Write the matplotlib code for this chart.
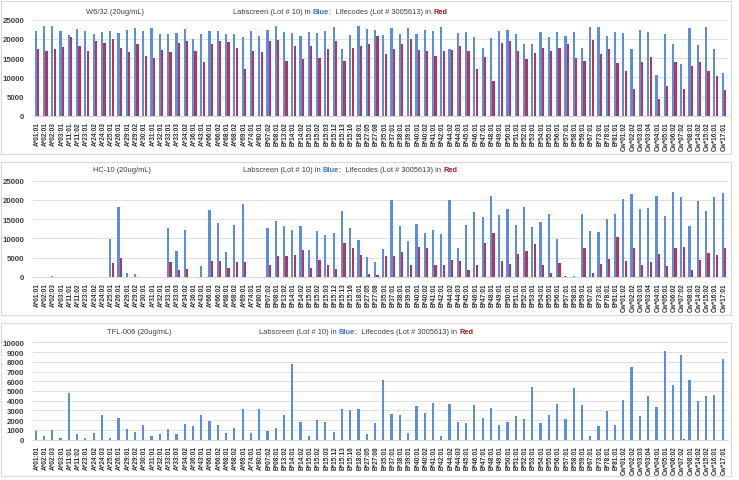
import matplotlib
matplotlib.use("Agg")
import matplotlib.pyplot as plt
import numpy as np
from matplotlib.patches import Rectangle
from matplotlib.offsetbox import TextArea, HPacker, AnnotationBbox

categories = [
    "A*01:01", "A*02:01", "A*02:03", "A*03:01", "A*11:01", "A*11:02", "A*23:01", "A*24:02", "A*24:03",
    "A*25:01", "A*26:01", "A*29:01", "A*29:02", "A*30:01", "A*31:01", "A*32:01", "A*33:01", "A*33:03",
    "A*34:02", "A*36:01", "A*43:01", "A*66:01", "A*66:02", "A*68:01", "A*68:02", "A*69:01", "A*74:01",
    "A*80:01",
    "B*07:02", "B*08:01", "B*13:02", "B*14:01", "B*14:02", "B*15:01", "B*15:02", "B*15:03", "B*15:12",
    "B*15:13", "B*15:16", "B*18:01", "B*27:05", "B*27:08", "B*35:01", "B*37:01", "B*38:01", "B*39:01",
    "B*40:01", "B*40:02", "B*41:01", "B*42:01", "B*44:02", "B*44:03", "B*45:01", "B*46:01", "B*47:01",
    "B*48:01", "B*49:01", "B*50:01", "B*51:01", "B*52:01", "B*53:01", "B*54:01", "B*55:01", "B*56:01",
    "B*57:01", "B*58:01", "B*59:01", "B*67:01", "B*73:01", "B*78:01", "B*81:01",
    "Cw*01:02", "Cw*02:02", "Cw*03:03", "Cw*03:04", "Cw*04:01", "Cw*05:01", "Cw*06:02", "Cw*07:02",
    "Cw*08:01", "Cw*14:02", "Cw*15:02", "Cw*16:01", "Cw*17:01",
]

w632_labscreen = [
    22050, 23350, 23260, 22050, 20920, 22570, 21960, 21180, 21790, 22050, 21530, 22400, 22740, 21960,
    22740, 21270, 21270, 21530, 22480, 19970, 21350, 21960, 22140, 21350, 21270, 20400, 22050, 20750,
    22400, 23260, 21790, 21530, 20830, 21790, 21530, 22050, 23000, 17270, 21010, 23440, 22480, 22310,
    20920, 22740, 21270, 22740, 21350, 22220, 22050, 23090, 17360, 21610, 21790, 20400, 17530, 20140,
    22050, 22310, 21270, 18580, 18580, 21700, 20400, 21790, 20830, 21790, 17710, 23180, 23090, 20750,
    21790,
    21530, 17360, 22310, 21790, 10590, 21180, 18750, 13450, 22740, 18490, 23090, 17360, 11110,
]
w632_lifecodes = [
    17270, 16750, 17270, 17880, 20570, 18050, 16840, 19530, 18920, 19970, 17710, 16670, 18580, 15540,
    14930, 17100, 16490, 18840, 19440, 16930, 14060, 18750, 19360, 19100, 17710, 12150, 16930, 16670,
    19530, 19790, 14150, 18230, 14670, 18230, 15020, 17270, 19530, 14320, 17530, 18230, 18660, 20830,
    16060, 17270, 18660, 19970, 17100, 16750, 15540, 16840, 17100, 18140, 16930, 12070, 15370, 9030,
    18840, 19440, 16840, 14670, 16230, 17620, 16840, 17530, 18660, 15100, 14320, 19700, 15970, 17360,
    13720,
    11720, 7030, 13980, 15280, 4340, 7640, 13980, 7030, 12930, 14060, 11630, 10420, 6770,
]

hc10_labscreen = [
    0, 0, 200, 0, 0, 0, 0, 0, 0, 9810, 18060, 870, 600, 0, 0, 0, 12590, 6680, 12150, 0, 2690, 17270,
    14060, 6340, 13540, 19010, 0, 0,
    12590, 14500, 13110, 12150, 13110, 6940, 11810, 10760, 11370, 17100, 12670, 9640, 5120, 3820, 7200,
    19970, 13190, 9200, 13800, 11280, 12150, 11020, 19970, 7550, 13370, 16750, 15540, 21010, 16060,
    17530, 13370, 18140, 12850, 14240, 16410, 9900, 150, 200, 16230, 11890, 11720, 14930, 16230,
    20230, 21530, 17710, 17880, 20920, 15710, 21960, 20750, 13110, 19790, 17190, 20750, 21790,
]
hc10_lifecodes = [
    0, 0, 0, 0, 0, 0, 0, 0, 0, 3560, 4950, 0, 0, 0, 0, 0, 3730, 1650, 2000, 0, 0, 4080, 3990, 2340,
    3730, 3730, 0, 0,
    3130, 5300, 5470, 5730, 6860, 2170, 4250, 2950, 2000, 8680, 7470, 5560, 600, 430, 5300, 5380, 6340,
    3040, 7640, 7550, 3040, 3040, 4340, 3990, 1740, 3040, 8770, 11460, 4080, 3390, 5900, 6680, 8420,
    3130, 950, 3470, 0, 0, 7470, 1040, 3390, 4690, 10330,
    3990, 7470, 3130, 3910, 5900, 2860, 7470, 7730, 1740, 4430, 6250, 5560, 7470,
]

tfl_labscreen = [
    890, 380, 1030, 210, 4830, 580, 140, 720, 2530, 200, 2260, 1060, 820, 1540, 410, 550, 1060, 620,
    1580, 1400, 2500, 1920, 1470, 720, 1230, 3150, 650, 3180,
    890, 1230, 2530, 7810, 1850, 340, 1990, 1850, 790, 3150, 3080, 3150, 620, 1710, 6130, 2640, 2530,
    720, 3460, 2740, 3770, 380, 3660, 1850, 1750, 3600, 2190, 3250, 1540, 1780, 2470, 2160, 5450, 1710,
    2530, 3660, 2090, 5310, 3560, 380, 1440, 2980, 1510,
    4110, 7470, 2470, 4520, 3360, 9110, 5620, 8700, 6130, 3970, 4490, 4620, 8290,
]
tfl_lifecodes = [0] * 78 + [100] + [0] * 5

panel_titles = ["W6/32 (20ug/mL)", "HC-10 (20ug/mL)", "TFL-006 (20ug/mL)"]
legend_parts = [("Labscreen (Lot # 10) in ", "#404040", "normal"),
                ("Blue", "#3c78d8", "bold"),
                (";  Lifecodes (Lot # 3005613) in ", "#404040", "normal"),
                ("Red", "#a61c1c", "bold")]

BLUE = "#5a8fe0"
RED = "#b8355a"
FONT = "Liberation Sans"

W, H = 739, 481
fig = plt.figure(figsize=(W / 100, H / 100), dpi=100)
fig.patch.set_facecolor("white")

def fx(px):
    return px / W

def fy(py):
    return 1 - py / H

panels = [
    dict(blue=w632_labscreen, red=w632_lifecodes, top=20.7, bottom=116.7, ymax=25000, step=5000,
         box=(1, 2, 731, 155), title_y=12, t1x=115, t2x=340),
    dict(blue=hc10_labscreen, red=hc10_lifecodes, top=181.7, bottom=277.7, ymax=25000, step=5000,
         box=(1, 163, 731, 316), title_y=170, t1x=122, t2x=350),
    dict(blue=tfl_labscreen, red=tfl_lifecodes, top=343.3, bottom=440.7, ymax=10000, step=1000,
         box=(1, 324, 731, 477), title_y=333, t1x=139, t2x=366),
]

n = len(categories)
x = np.arange(n)
left_px, right_px = 32.9, 728.1

for i, p in enumerate(panels):
    x0, y0, x1, y1 = p["box"]
    fig.add_artist(Rectangle((fx(x0), fy(y1)), fx(x1 - x0), (y1 - y0) / H, transform=fig.transFigure,
                             fill=False, edgecolor="#d9d9d9", lw=0.8))
    ax = fig.add_axes([fx(left_px), fy(p["bottom"]), fx(right_px - left_px), (p["bottom"] - p["top"]) / H])
    ax.bar(x - 0.16, p["blue"], width=0.27, color=BLUE, zorder=3)
    ax.bar(x + 0.14, p["red"], width=0.27, color=RED, zorder=3)
    ax.set_xlim(-0.5, n - 0.5)
    ax.set_ylim(0, p["ymax"])
    ax.set_yticks(np.arange(0, p["ymax"] + 1, p["step"]))
    ax.set_xticks(x)
    ax.set_xticklabels(categories, rotation=90, fontsize=4.7, fontfamily=FONT, fontweight="bold",
                       color="#303030")
    for lab in ax.get_yticklabels():
        lab.set_fontsize(5.7)
        lab.set_fontfamily(FONT)
        lab.set_fontweight("bold")
        lab.set_color("#404040")
    ax.tick_params(axis="both", length=0)
    ax.tick_params(axis="y", pad=6)
    ax.tick_params(axis="x", pad=4)
    ax.grid(axis="y", color="#dcdcdc", lw=0.6, zorder=0)
    for s in ["top", "right", "left"]:
        ax.spines[s].set_visible(False)
    ax.spines["bottom"].set_color("#d0d0d0")
    ax.spines["bottom"].set_linewidth(0.6)
    ax.set_facecolor("none")

    fig.text(fx(p["t1x"]), fy(p["title_y"]), panel_titles[i], ha="center", va="center",
             fontsize=5.4, fontfamily=FONT, color="#404040")
    areas = [TextArea(t, textprops=dict(color=c, fontsize=5.4, fontfamily=FONT, fontweight=wt))
             for t, c, wt in legend_parts]
    box = HPacker(children=areas, align="baseline", pad=0, sep=0)
    ab = AnnotationBbox(box, (fx(p["t2x"]), fy(p["title_y"])), xycoords="figure fraction",
                        frameon=False, box_alignment=(0.5, 0.5))
    fig.add_artist(ab)

fig.savefig("out.png", dpi=100, facecolor="white")
